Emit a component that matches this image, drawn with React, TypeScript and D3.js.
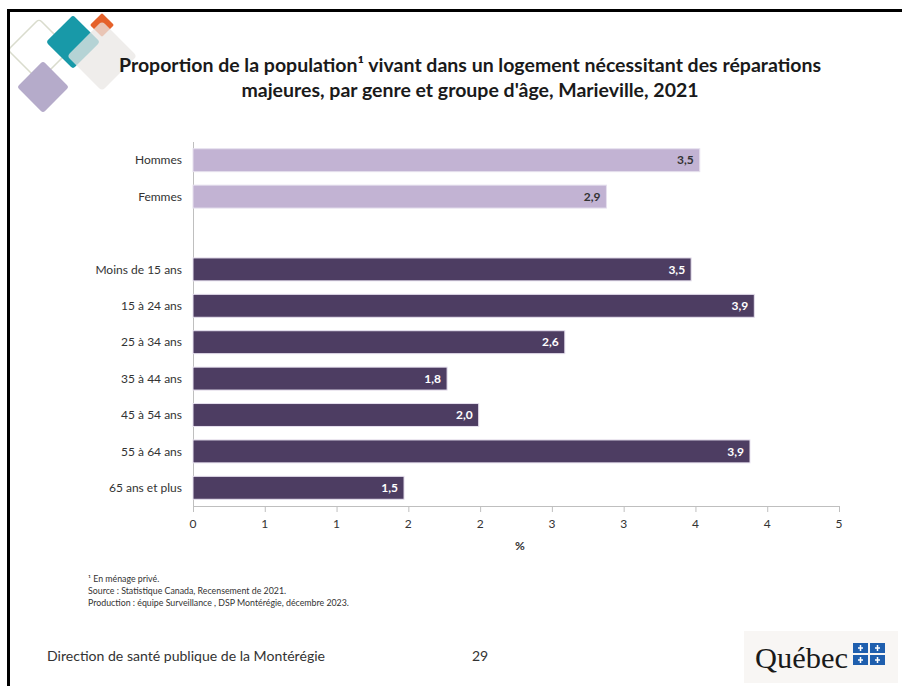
import React from "react";
import * as d3 from "d3";

const categories = [
  "Hommes",
  "Femmes",
  "",
  "Moins de 15 ans",
  "15 à 24 ans",
  "25 à 34 ans",
  "35 à 44 ans",
  "45 à 54 ans",
  "55 à 64 ans",
  "65 ans et plus",
];
const values: (number | null)[] = [3.53, 2.88, null, 3.47, 3.91, 2.59, 1.77, 1.99, 3.88, 1.47];
const groups = ["genre", "genre", "", "age", "age", "age", "age", "age", "age", "age"];
const tickValues = [0, 0.5, 1, 1.5, 2, 2.5, 3, 3.5, 4, 4.5];
const titleLines = [
  "Proportion de la population¹ vivant dans un logement nécessitant des réparations",
  "majeures, par genre et groupe d'âge, Marieville, 2021",
];
const footnotes = [
  "¹ En ménage privé.",
  "Source : Statistique Canada, Recensement de 2021.",
  "Production : équipe Surveillance , DSP Montérégie, décembre 2023.",
];

const W = 902;
const H = 686;
const FONT = "Lato, 'Open Sans', sans-serif";

export default function App() {
  const x = d3.scaleLinear().domain([0, 4.5]).range([193, 839]);
  const y = d3
    .scaleBand<string>()
    .domain(categories.map((c, i) => c || `blank${i}`))
    .range([142, 506])
    .paddingInner(0.37)
    .paddingOuter(0.185);
  const fmtTick = (v: number) => d3.format(".0f")(Math.round(v + 1e-9));
  const fmtVal = (v: number) => d3.format(".1f")(v).replace(".", ",");
  const colorFor = (g: string) => (g === "genre" ? "#c2b3d3" : "#4d3d62");
  const textFor = (g: string) => (g === "genre" ? "#333333" : "#ffffff");

  const diamond = (cx: number, cy: number, half: number, fill: string, opts: any = {}) => {
    const side = half * Math.SQRT2;
    return (
      <rect
        x={-side / 2}
        y={-side / 2}
        width={side}
        height={side}
        rx={side * 0.08}
        transform={`translate(${cx},${cy}) rotate(45)`}
        fill={fill}
        {...opts}
      />
    );
  };

  return (
    <svg
      width={W}
      height={H}
      style={{ position: "absolute", left: 0, top: 0, background: "#fff" }}
      fontFamily={FONT}
    >
      <rect x={0} y={0} width={W} height={H} fill="#fff" />

      {/* decoration */}
      {diamond(39, 50, 31, "none", { stroke: "#d9dccd", strokeWidth: 1.5 })}
      {diamond(43, 87, 26, "#b5abca")}
      {diamond(73, 42, 27, "#1899a8")}
      {diamond(102, 25, 12, "#e5612a")}
      {diamond(102, 56, 35, "#e9e7e4", { opacity: 0.75 })}

      {/* frame */}
      <line x1={8} y1={10.5} x2={W} y2={10.5} stroke="#000" strokeWidth={3} />
      <line x1={8.5} y1={9} x2={8.5} y2={H} stroke="#000" strokeWidth={3} />

      {/* title */}
      {titleLines.map((t, i) => (
        <text
          key={i}
          x={470}
          y={72 + i * 25}
          textAnchor="middle"
          fontSize={19.5}
          fontWeight="bold"
          fill="#1a1a1a"
        >
          {t}
        </text>
      ))}

      {/* y axis line */}
      <line x1={193.5} y1={142} x2={193.5} y2={506} stroke="#bfbfbf" strokeWidth={1} />

      {/* bars */}
      {categories.map((c, i) => {
        const v = values[i];
        const key = c || `blank${i}`;
        const by = y(key)!;
        const bh = y.bandwidth();
        return (
          <g key={key}>
            {c && (
              <text
                x={182}
                y={by + bh / 2}
                dy="0.35em"
                textAnchor="end"
                fontSize={12}
                fill="#333"
              >
                {c}
              </text>
            )}
            {v != null && (
              <>
                <rect
                  x={x(0)}
                  y={by}
                  width={x(v) - x(0)}
                  height={bh}
                  fill={colorFor(groups[i])}
                  stroke="#e6e0ee"
                  strokeWidth={1}
                />
                <text
                  x={x(v) - 6}
                  y={by + bh / 2}
                  dy="0.35em"
                  textAnchor="end"
                  fontSize={12}
                  fontWeight="bold"
                  fill={textFor(groups[i])}
                >
                  {fmtVal(v)}
                </text>
              </>
            )}
          </g>
        );
      })}

      {/* x axis */}
      <line x1={x(0)} y1={506.5} x2={x(4.5)} y2={506.5} stroke="#bfbfbf" strokeWidth={1} />
      {tickValues.map((t) => (
        <g key={t}>
          <line x1={x(t) + 0.5} y1={506} x2={x(t) + 0.5} y2={512} stroke="#bfbfbf" strokeWidth={1} />
          <text x={x(t)} y={528} textAnchor="middle" fontSize={12} fill="#333">
            {fmtTick(t)}
          </text>
        </g>
      ))}
      <text x={520} y={550} textAnchor="middle" fontSize={12} fontWeight="bold" fill="#333">
        %
      </text>

      {/* footnotes */}
      {footnotes.map((f, i) => (
        <text key={i} x={88} y={582 + i * 12} fontSize={8.8} fill="#333">
          {f}
        </text>
      ))}

      {/* footer */}
      <text x={47} y={661} fontSize={14} fill="#333" textLength={278} lengthAdjust="spacingAndGlyphs">
        Direction de santé publique de la Montérégie
      </text>
      <text x={480} y={661} textAnchor="middle" fontSize={14} fill="#333">
        29
      </text>

      {/* Québec logo */}
      <rect x={744} y={631} width={154} height={52} fill="#f8f6f4" />
      <text
        x={755}
        y={668}
        fontSize={30}
        fill="#1a1a1a"
        fontFamily="'Liberation Serif', serif"
        textLength={93}
        lengthAdjust="spacingAndGlyphs"
      >
        Québec
      </text>
      {[0, 1].map((r) =>
        [0, 1].map((cI) => (
          <g key={`${r}${cI}`}>
            <rect x={853 + cI * 17} y={643 + r * 12} width={15} height={10} fill="#1f5fae" />
            <line x1={853 + cI * 17 + 7.5} y1={643 + r * 12 + 2} x2={853 + cI * 17 + 7.5} y2={643 + r * 12 + 8} stroke="#fff" strokeWidth={1.5} />
            <line x1={853 + cI * 17 + 5} y1={643 + r * 12 + 5} x2={853 + cI * 17 + 10} y2={643 + r * 12 + 5} stroke="#fff" strokeWidth={1.5} />
          </g>
        ))
      )}
    </svg>
  );
}
